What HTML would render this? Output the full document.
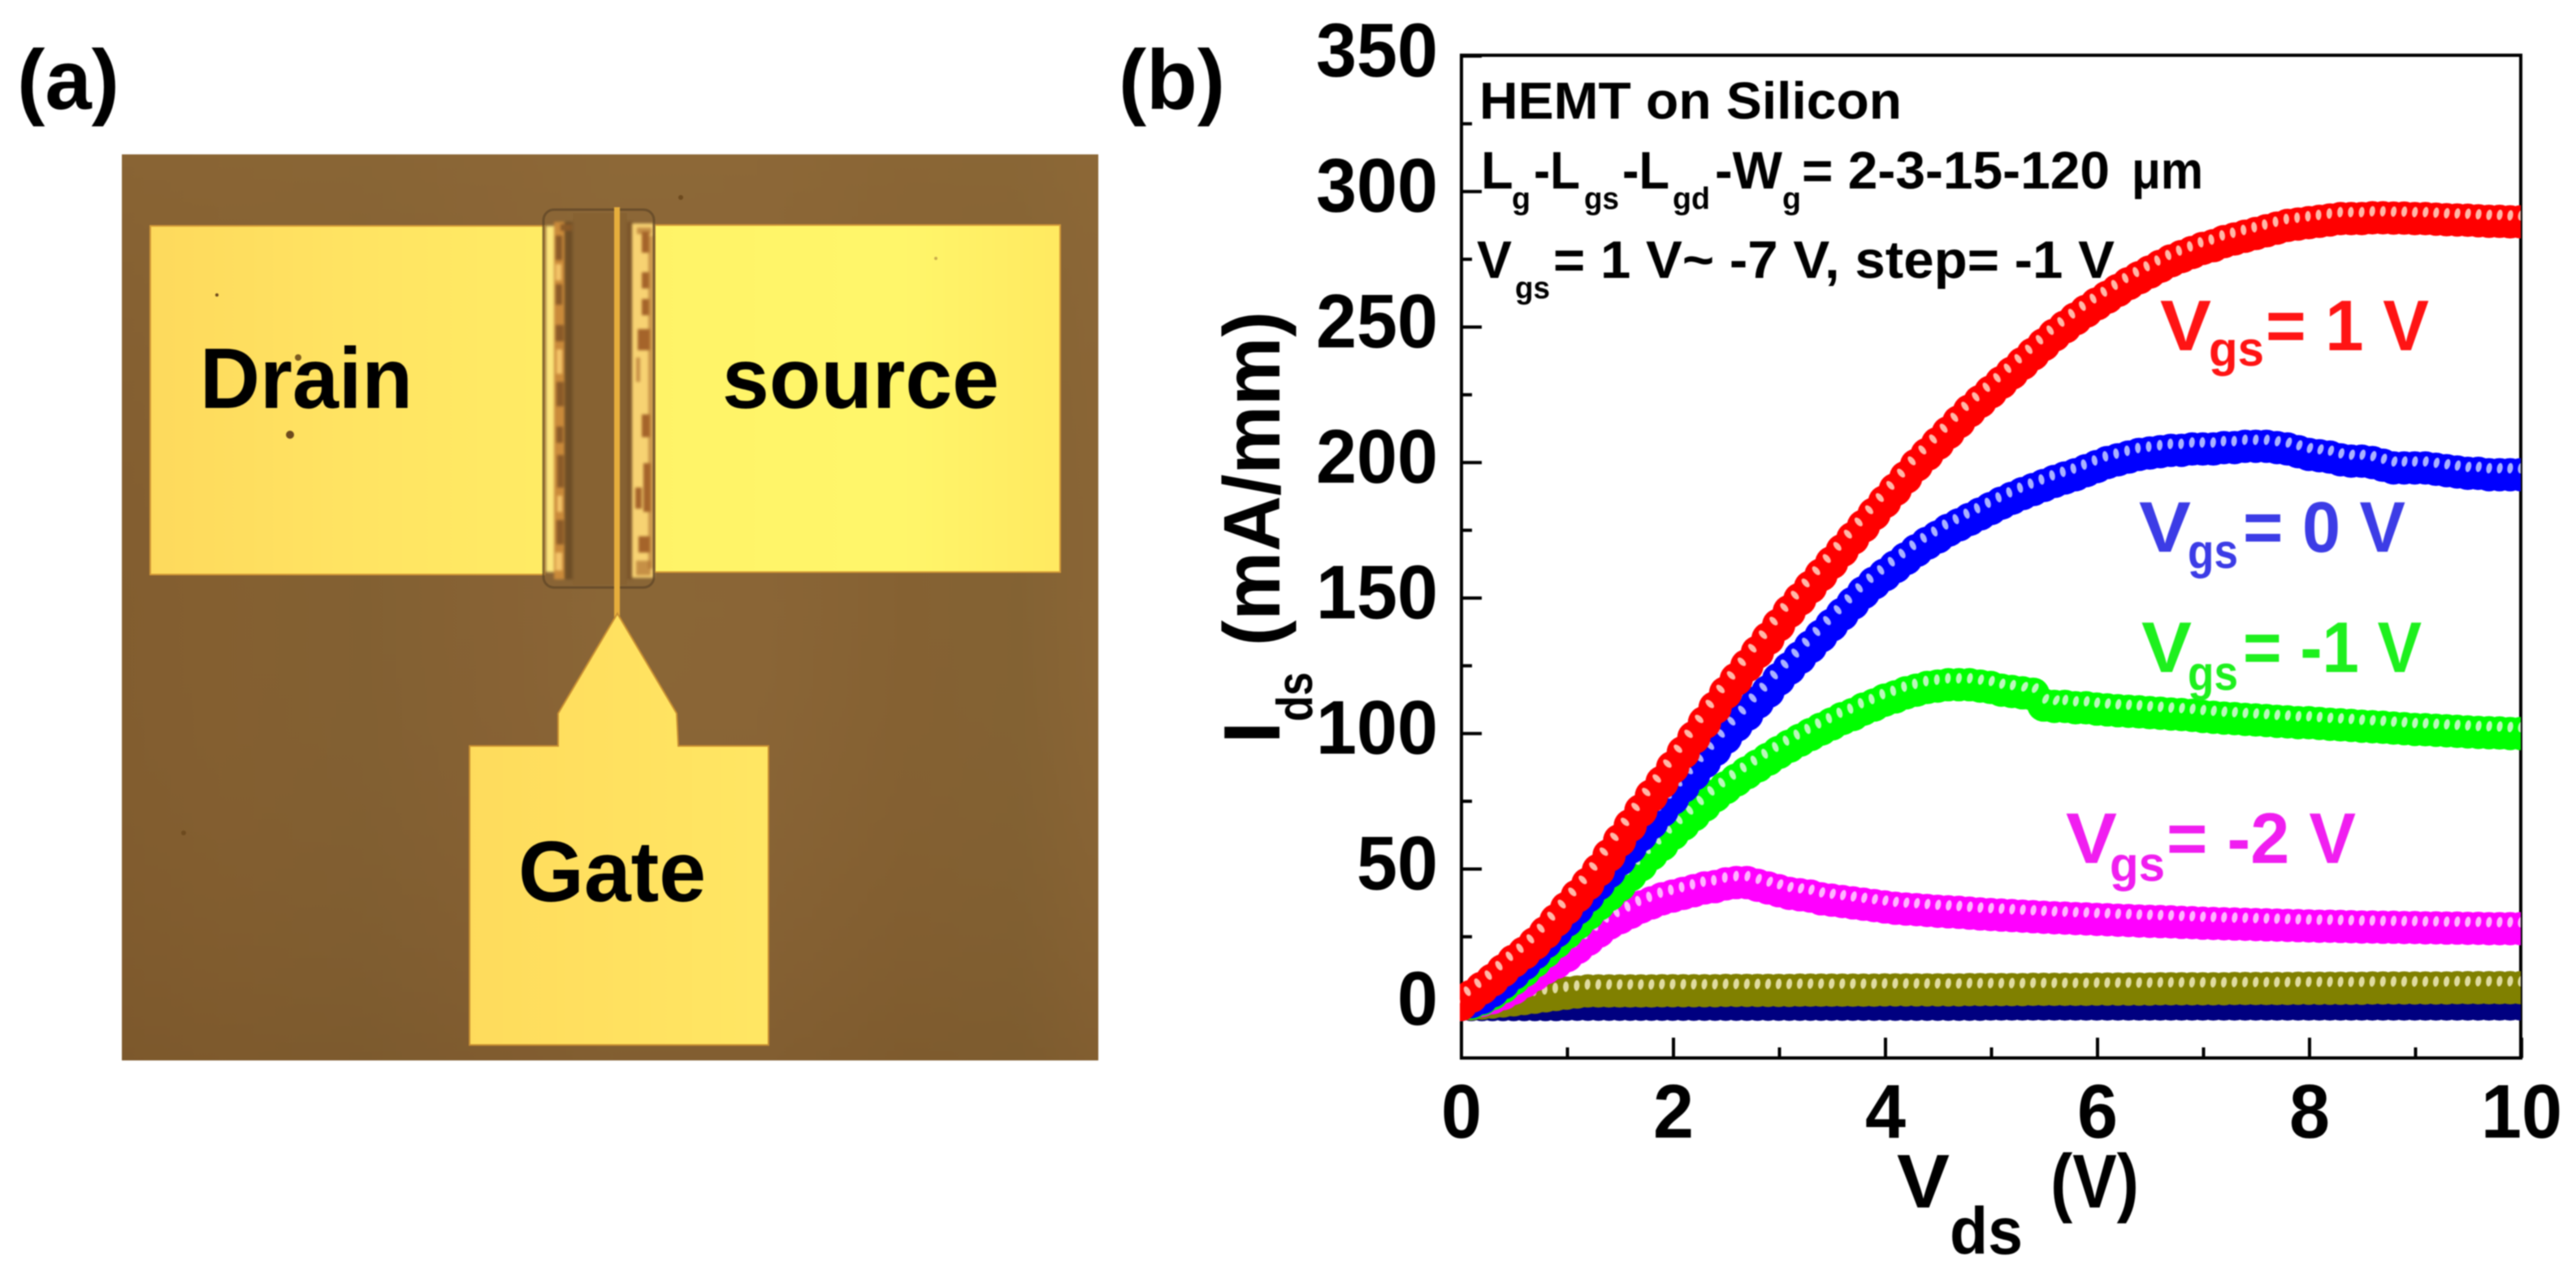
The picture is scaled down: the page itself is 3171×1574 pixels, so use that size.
<!DOCTYPE html>
<html lang="en">
<head>
<meta charset="utf-8">
<title>HEMT on Silicon: device photo and Ids-Vds curves</title>
<style>
html,body{margin:0;padding:0;background:#fff;}
svg{display:block;filter:blur(0.9px);}
text{font-family:"Liberation Sans",Arial,sans-serif;font-weight:bold;}
.soft{filter:blur(1.6px);}
</style>
</head>
<body>
<svg id="figure" xmlns="http://www.w3.org/2000/svg" width="3171" height="1574" viewBox="0 0 3171 1574">
<defs>
<linearGradient id="brownGrad" x1="0" x2="1" y1="0" y2="0">
<stop offset="0" stop-color="#825d2f"/><stop offset="0.1" stop-color="#845f30"/><stop offset="0.25" stop-color="#826032"/><stop offset="0.4" stop-color="#886234"/><stop offset="0.5" stop-color="#8a6636"/><stop offset="0.65" stop-color="#8a6536"/><stop offset="0.8" stop-color="#856132"/><stop offset="0.92" stop-color="#836233"/><stop offset="1" stop-color="#8a6535"/>
</linearGradient>
<linearGradient id="brownShade" x1="0" x2="0" y1="0" y2="1">
<stop offset="0" stop-color="#8f6a38" stop-opacity="0.5"/><stop offset="0.5" stop-color="#876235" stop-opacity="0"/><stop offset="1" stop-color="#6e4c24" stop-opacity="0.3"/>
</linearGradient>
<linearGradient id="drainGrad" x1="0" x2="1" y1="0" y2="0">
<stop offset="0" stop-color="#fdd95c"/><stop offset="0.5" stop-color="#ffe362"/><stop offset="1" stop-color="#ffeb64"/>
</linearGradient>
<linearGradient id="sourceGrad" x1="0" x2="1" y1="0" y2="0">
<stop offset="0" stop-color="#fff367"/><stop offset="0.6" stop-color="#fff66a"/><stop offset="1" stop-color="#ffe960"/>
</linearGradient>
<linearGradient id="gateGrad" x1="0" x2="1" y1="0" y2="0">
<stop offset="0" stop-color="#fedb5c"/><stop offset="1" stop-color="#ffe663"/>
</linearGradient>
<clipPath id="plotClip"><rect x="1797" y="66" width="1306" height="1238"/></clipPath>
</defs>

<rect x="0" y="0" width="3171" height="1574" fill="#ffffff"/>

<text x="21" y="134" font-size="104" textLength="126" lengthAdjust="spacingAndGlyphs" fill="#000">(a)</text>
<text x="1377" y="134" font-size="104" textLength="131" lengthAdjust="spacingAndGlyphs" fill="#000">(b)</text>

<g>
<rect x="150" y="190" width="1202" height="1115" fill="url(#brownGrad)"/>
<rect x="150" y="190" width="1202" height="1115" fill="url(#brownShade)"/>
<rect x="185" y="278" width="485" height="429" fill="url(#drainGrad)" stroke="#d49a38" stroke-width="2"/>
<rect x="806" y="277" width="499" height="427" fill="url(#sourceGrad)" stroke="#d49a38" stroke-width="2"/>
<rect x="705" y="262" width="67" height="458" fill="#876232"/>
<g class="soft">
<rect x="672" y="278" width="11" height="426" fill="#fce67c"/>
<rect x="682" y="273" width="13" height="440" fill="#c98a3a"/>
<rect x="695" y="273" width="10" height="440" fill="#6e4e26"/>
<rect x="772" y="273" width="7" height="440" fill="#7a5429"/>
<rect x="778" y="275" width="27" height="436" fill="#f7d272"/>
<g fill="#a5642a">
<rect x="790" y="285" width="9" height="26"/><rect x="790" y="335" width="9" height="20"/><rect x="790" y="368" width="9" height="20"/><rect x="785" y="405" width="15" height="26"/><rect x="790" y="510" width="10" height="28"/><rect x="792" y="570" width="9" height="60"/><rect x="782" y="600" width="8" height="26"/><rect x="786" y="660" width="14" height="20"/><rect x="798" y="290" width="6" height="410" opacity="0.55"/><rect x="783" y="440" width="5" height="30" opacity="0.6"/><rect x="783" y="690" width="18" height="18" opacity="0.6"/><rect x="784" y="280" width="18" height="8" opacity="0.6"/>
</g>
<g fill="#8a5a28">
<rect x="684" y="400" width="10" height="20"/><rect x="685" y="470" width="9" height="30"/><rect x="686" y="560" width="8" height="40"/><rect x="685" y="640" width="9" height="30"/><rect x="684" y="290" width="8" height="30"/><rect x="684" y="350" width="8" height="25"/><rect x="685" y="525" width="8" height="20"/><rect x="690" y="276" width="14" height="8"/>
</g>
<g fill="#f4c468">
<rect x="684" y="325" width="7" height="20"/><rect x="685" y="430" width="7" height="30"/><rect x="686" y="610" width="6" height="20"/><rect x="684" y="680" width="8" height="22"/>
</g>
</g>
<rect x="669" y="258" width="136" height="465" rx="13" fill="none" stroke="#5d4526" stroke-width="3" opacity="0.7"/>
<rect x="756" y="255" width="7" height="505" fill="#e6ae3c"/>
<polygon points="760,755 687,878 687,918 578,918 578,1286 946,1286 946,918 835,918 833,878" fill="url(#gateGrad)" stroke="#c88f32" stroke-width="2"/>
<g fill="#6d4a1e">
<circle cx="357" cy="535" r="5"/><circle cx="267" cy="363" r="2"/><circle cx="838" cy="243" r="3"/><circle cx="367" cy="440" r="4" fill="#7b5a20"/><circle cx="1152" cy="318" r="2" fill="#c9ad4b"/><circle cx="226" cy="1025" r="3"/>
</g>
<text x="246" y="502" font-size="106" textLength="262" lengthAdjust="spacingAndGlyphs" fill="#000">Drain</text>
<text x="889" y="502" font-size="106" textLength="341" lengthAdjust="spacingAndGlyphs" fill="#000">source</text>
<text x="638" y="1109" font-size="106" textLength="231" lengthAdjust="spacingAndGlyphs" fill="#000">Gate</text>
</g>

<g id="chart">
<rect x="1799" y="68" width="1304" height="1234" fill="none" stroke="#000" stroke-width="4"/>
<g id="axisLayer"></g>
<g id="seriesLayer" clip-path="url(#plotClip)"></g>

<g fill="#000">
<text transform="translate(1575,915) rotate(-90)" font-size="98">I</text>
<text transform="translate(1615,888) rotate(-90)" font-size="62" textLength="61" lengthAdjust="spacingAndGlyphs">ds</text>
<text transform="translate(1575,795) rotate(-90)" font-size="98" textLength="412" lengthAdjust="spacingAndGlyphs">(mA/mm)</text>
</g>
<g fill="#000">
<text x="2335" y="1486" font-size="94" textLength="65" lengthAdjust="spacingAndGlyphs">V</text>
<text x="2400" y="1543" font-size="82" textLength="90" lengthAdjust="spacingAndGlyphs">ds</text>
<text x="2524" y="1486" font-size="94" textLength="109" lengthAdjust="spacingAndGlyphs">(V)</text>
</g>

<g fill="#000">
<text x="1821" y="146" font-size="64" textLength="520" lengthAdjust="spacingAndGlyphs">HEMT on Silicon</text>
</g>
<g fill="#000">
<text x="1823" y="232" font-size="65">L</text>
<text x="1861" y="257" font-size="38" textLength="23" lengthAdjust="spacingAndGlyphs">g</text>
<text x="1888" y="232" font-size="65" textLength="57" lengthAdjust="spacingAndGlyphs">-L</text>
<text x="1950" y="257" font-size="38" textLength="43" lengthAdjust="spacingAndGlyphs">gs</text>
<text x="1997" y="232" font-size="65" textLength="58" lengthAdjust="spacingAndGlyphs">-L</text>
<text x="2059" y="257" font-size="38" textLength="46" lengthAdjust="spacingAndGlyphs">gd</text>
<text x="2111" y="232" font-size="65" textLength="83" lengthAdjust="spacingAndGlyphs">-W</text>
<text x="2194" y="257" font-size="38" textLength="23" lengthAdjust="spacingAndGlyphs">g</text>
<text x="2218" y="232" font-size="65" textLength="379" lengthAdjust="spacingAndGlyphs">= 2-3-15-120</text>
<text x="2624" y="232" font-size="65" textLength="88" lengthAdjust="spacingAndGlyphs">μm</text>
</g>
<g fill="#000">
<text x="1818" y="342" font-size="65" textLength="43" lengthAdjust="spacingAndGlyphs">V</text>
<text x="1865" y="367" font-size="38" textLength="43" lengthAdjust="spacingAndGlyphs">gs</text>
<text x="1912" y="342" font-size="65" textLength="691" lengthAdjust="spacingAndGlyphs">= 1 V~ -7 V, step= -1 V</text>
</g>

<g fill="#ff1414">
<text x="2659" y="431" font-size="88" textLength="63" lengthAdjust="spacingAndGlyphs">V</text>
<text x="2719" y="450" font-size="60" textLength="68" lengthAdjust="spacingAndGlyphs">gs</text>
<text x="2789" y="431" font-size="88" textLength="201" lengthAdjust="spacingAndGlyphs">= 1 V</text>
</g>
<g fill="#3c3ce6">
<text x="2633" y="679" font-size="88" textLength="64" lengthAdjust="spacingAndGlyphs">V</text>
<text x="2693" y="699" font-size="60" textLength="62" lengthAdjust="spacingAndGlyphs">gs</text>
<text x="2761" y="679" font-size="88" textLength="200" lengthAdjust="spacingAndGlyphs">= 0 V</text>
</g>
<g fill="#1ef01e">
<text x="2636" y="827" font-size="88" textLength="62" lengthAdjust="spacingAndGlyphs">V</text>
<text x="2693" y="849" font-size="60" textLength="62" lengthAdjust="spacingAndGlyphs">gs</text>
<text x="2761" y="827" font-size="88" textLength="220" lengthAdjust="spacingAndGlyphs">= -1 V</text>
</g>
<g fill="#f01ef0">
<text x="2543" y="1062" font-size="88" textLength="63" lengthAdjust="spacingAndGlyphs">V</text>
<text x="2597" y="1084" font-size="60" textLength="68" lengthAdjust="spacingAndGlyphs">gs</text>
<text x="2667" y="1062" font-size="88" textLength="233" lengthAdjust="spacingAndGlyphs">= -2 V</text>
</g>
</g>
</svg>

<script>
const xMajorTicks = [0, 2, 4, 6, 8, 10];
const xMinorTicks = [1, 3, 5, 7, 9];
const yMajorTicks = [0, 50, 100, 150, 200, 250, 300, 350];
const yMinorTicks = [25, 75, 125, 175, 225, 275, 325];
const vdsValues = [0,0.1,0.2,0.3,0.4,0.5,0.6,0.7,0.8,0.9,1,1.1,1.2,1.3,1.4,1.5,1.6,1.7,1.8,1.9,2,2.1,2.2,2.3,2.4,2.5,2.6,2.7,2.8,2.9,3,3.1,3.2,3.3,3.4,3.5,3.6,3.7,3.8,3.9,4,4.1,4.2,4.3,4.4,4.5,4.6,4.7,4.8,4.9,5,5.1,5.2,5.3,5.4,5.5,5.6,5.7,5.8,5.9,6,6.1,6.2,6.3,6.4,6.5,6.6,6.7,6.8,6.9,7,7.1,7.2,7.3,7.4,7.5,7.6,7.7,7.8,7.9,8,8.1,8.2,8.3,8.4,8.5,8.6,8.7,8.8,8.9,9,9.1,9.2,9.3,9.4,9.5,9.6,9.7,9.8,9.9,10];

const idsVgsPlus1 = [0,3,6,9,12.5,16,19,22.5,26.5,31,35.5,40,44.5,49.5,55,60.5,66,71.5,77,82,87.5,93,98.5,104,109.5,115,120,125,130,135,140,145,149.5,154,158.5,163,167.5,172,176.5,181,185.5,190,194.5,199,203,207,211,215,219,222.5,226,229.5,233,236.5,240,243.5,247,250,253,255.8,258.5,261,263.5,266,268.2,270.3,272.4,274.4,276,277.5,279,280,281.5,282.5,283.5,284.5,285.5,286.5,287.5,288,288.5,289,289.5,290,290,290,290.3,290.3,290.2,290.2,290,290,289.8,289.6,289.5,289.4,289.2,289,289,288.8,288.8];
const idsVgs0 = [0,1,2.5,5,8,11.5,15,19,23,27,31,35.5,40,44.5,49,53.5,58,62.5,67,71.5,76,80.5,85,89.5,94,98.5,103,107,111.5,115.5,120,124,128,132,136,140,144,148,152,155.5,158.5,161.5,164.5,167.5,170.2,172.5,175,177,179,181,183,185,186.8,188.5,190,191.5,193,194.3,195.5,197,198.5,200,201,202,203,203.5,204,204.5,204.5,205,205,205,205.5,205.5,206,206,206,205.5,205,204,203,202.5,202,201,200.5,200.5,200,199,198,198,198,198,197.5,197,196.5,196,196,195.5,195.5,195.5,195.5];
const idsVgsMinus1 = [0,0.5,2,4,6.5,9.5,12.5,16,19.5,23,26.5,30,33.5,37,40.5,44,47.8,51.5,55.5,59,63,66.5,70,73.5,77,80,82.8,85.5,88,90.5,93,95.3,97.5,99.6,101.6,103.5,105.5,107,109,110.5,112.3,113.5,115,116,117,117.5,118,118,118,117.5,117,116,115.5,115,114.5,110.5,110,110,109.5,109.5,109,108.7,108.4,108.2,108,107.7,107.5,107.2,107,106.7,106.3,106,105.7,105.5,105.2,105,104.8,104.5,104.3,104,104,103.7,103.4,103.2,103,102.7,102.5,102.3,102,101.8,101.5,101.4,101.2,101,100.8,100.6,100.4,100.3,100.2,100,100];
const idsVgsMinus2 = [0,0.5,1.5,2.5,4,6,8.5,11,13.5,15.5,18,21,24,27,30,32,34,36,37.5,39,40,41,42,43,43.5,44.5,45,45,44,43,42,41,40.5,40,39,38.5,38,37.5,37,36.5,36,35.5,35.2,35,34.7,34.4,34.2,34,33.7,33.4,33.2,33,32.8,32.6,32.4,32.2,32,31.9,31.7,31.6,31.4,31.3,31.1,31,30.8,30.7,30.6,30.5,30.3,30.2,30,29.9,29.8,29.7,29.6,29.5,29.4,29.3,29.2,29.1,29,28.9,28.9,28.8,28.7,28.6,28.6,28.5,28.5,28.4,28.4,28.3,28.3,28.2,28.2,28.1,28.1,28,28,28,28];
const idsVgsMinus3 = [0,0.2,0.5,0.9,1.3,1.7,2.2,2.7,3.2,3.7,4.2,4.6,5,5,5,5,5,5,5,5.1,5.1,5.1,5.1,5.1,5.1,5.2,5.2,5.2,5.2,5.2,5.2,5.2,5.3,5.3,5.3,5.3,5.3,5.3,5.3,5.3,5.4,5.4,5.4,5.4,5.4,5.4,5.4,5.4,5.5,5.5,5.5,5.5,5.5,5.5,5.6,5.6,5.6,5.6,5.6,5.6,5.7,5.7,5.7,5.7,5.7,5.7,5.8,5.8,5.8,5.8,5.8,5.8,5.8,5.9,5.9,5.9,5.9,5.9,5.9,6,6,6,6,6,6,6,6.1,6.1,6.1,6.1,6.1,6.1,6.1,6.1,6.2,6.2,6.2,6.2,6.2,6.2,6.2];
const idsVgsMinus4 = [0,0,0,0,0,0,0,0,0,0,0.1,0.1,0.1,0.1,0.1,0.1,0.1,0.1,0.1,0.1,0.1,0.1,0.1,0.1,0.1,0.1,0.1,0.1,0.1,0.1,0.1,0.1,0.1,0.1,0.1,0.1,0.1,0.1,0.1,0.1,0.1,0.1,0.1,0.1,0.1,0.1,0.1,0.1,0.1,0.1,0.2,0.2,0.2,0.2,0.2,0.2,0.2,0.2,0.2,0.2,0.2,0.2,0.2,0.2,0.2,0.2,0.2,0.2,0.2,0.2,0.2,0.2,0.2,0.2,0.2,0.2,0.2,0.2,0.2,0.2,0.2,0.2,0.2,0.2,0.2,0.2,0.2,0.2,0.2,0.2,0.2,0.2,0.2,0.2,0.2,0.2,0.2,0.2,0.2,0.2,0.2];

const seriesNames = ['vgs-minus-4v','vgs-minus-3v','vgs-minus-2v','vgs-minus-1v','vgs-0v','vgs-1v'];
const seriesValues = [idsVgsMinus4,idsVgsMinus3,idsVgsMinus2,idsVgsMinus1,idsVgs0,idsVgsPlus1];
const seriesColors = ['#000080','#808000','#ff00ff','#00ff00','#0000ff','#ff0000'];
const holeColors = ['#000080','#e0dca0','#ffb4ff','#bcf8bc','#aab2ff','#ffb8a8'];

const NS = 'http://www.w3.org/2000/svg';
const plotLeft = 1798, pxPerVolt = 130.5, yZero = 1236.2, pxPerMilliAmp = 3.335;
const xScale = function (v) { return plotLeft + pxPerVolt * v; };
const yScale = function (i) { return yZero - pxPerMilliAmp * i; };
const markerRadius = 20.5, holeOffset = 8;

const seriesLayer = document.getElementById('seriesLayer');
const axisLayer = document.getElementById('axisLayer');

seriesValues.forEach(function (values, s) {
  const group = document.createElementNS(NS, 'g');
  
  
  seriesLayer.appendChild(group);
  values.forEach(function (value, k) {
    const dot = document.createElementNS(NS, 'circle');
    
    
    dot.setAttribute('cx', xScale(vdsValues[k]));
    dot.setAttribute('cy', yScale(value));
    dot.setAttribute('r', markerRadius);
    dot.setAttribute('fill', seriesColors[s]);
    group.appendChild(dot);
  });
  values.forEach(function (value, k) {
    const a = Math.max(0, k - 2), b = Math.min(values.length - 1, k + 2);
    const dx = xScale(vdsValues[b]) - xScale(vdsValues[a]);
    const dy = yScale(values[b]) - yScale(values[a]);
    const len = Math.hypot(dx, dy) || 1;
    const nx = dy / len, ny = -dx / len;
    const cx = xScale(vdsValues[k]) + nx * holeOffset;
    const cy = yScale(value) + ny * holeOffset;
    const angle = Math.atan2(dy, dx) * 180 / Math.PI + 8;
    const hole = document.createElementNS(NS, 'ellipse');
    
    
    hole.setAttribute('cx', cx);
    hole.setAttribute('cy', cy);
    hole.setAttribute('rx', 3.5);
    hole.setAttribute('ry', 6.5);
    hole.setAttribute('transform', 'rotate(' + angle + ' ' + cx + ' ' + cy + ')');
    hole.setAttribute('fill', holeColors[s]);
    group.appendChild(hole);
  });
});

function tickLine(x1, y1, x2, y2, name) {
  const line = document.createElementNS(NS, 'line');
  
  
  line.setAttribute('x1', x1);
  line.setAttribute('y1', y1);
  line.setAttribute('x2', x2);
  line.setAttribute('y2', y2);
  line.setAttribute('stroke', '#000');
  line.setAttribute('stroke-width', 4);
  axisLayer.appendChild(line);
}
function tickLabel(x, y, anchor, str, name) {
  const label = document.createElementNS(NS, 'text');
  
  
  label.setAttribute('x', x);
  label.setAttribute('y', y);
  label.setAttribute('text-anchor', anchor);
  label.setAttribute('font-size', 94);
  label.setAttribute('textLength', 50 * str.length);
  label.setAttribute('lengthAdjust', 'spacingAndGlyphs');
  label.setAttribute('fill', '#000');
  label.textContent = str;
  axisLayer.appendChild(label);
}
const frameBottom = 1302, frameLeft = 1799;
xMajorTicks.forEach(function (v) {
  tickLine(xScale(v) + 1, frameBottom, xScale(v) + 1, frameBottom - 25, 'x-major-tick');
  tickLabel(xScale(v) + 1, 1400, 'middle', String(v), 'x-tick-label');
});
xMinorTicks.forEach(function (v) {
  tickLine(xScale(v) + 1, frameBottom, xScale(v) + 1, frameBottom - 13, 'x-minor-tick');
});
yMajorTicks.forEach(function (v) {
  tickLine(frameLeft, yScale(v), frameLeft + 25, yScale(v), 'y-major-tick');
  tickLabel(1770, yScale(v) + 25, 'end', String(v), 'y-tick-label');
});
yMinorTicks.forEach(function (v) {
  tickLine(frameLeft, yScale(v), frameLeft + 13, yScale(v), 'y-minor-tick');
});
</script>
</body>
</html>
